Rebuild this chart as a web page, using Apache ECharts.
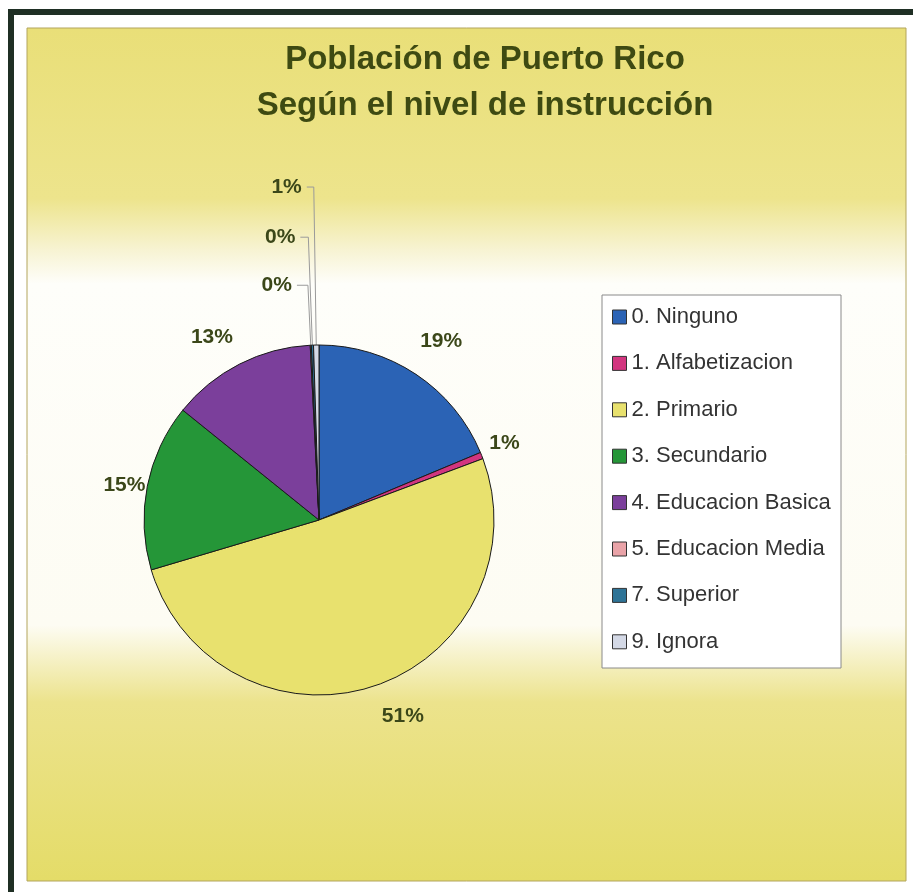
<!DOCTYPE html>
<html>
<head>
<meta charset="utf-8">
<title>Población de Puerto Rico</title>
<script src="https://cdn.jsdelivr.net/npm/echarts@6/dist/echarts.min.js"></script>
<style>
  html, body { margin: 0; padding: 0; background: #ffffff; }
  #main { width: 913px; height: 892px; }
</style>
</head>
<body>
<div id="main"></div>
<script>
// datos del grafico
const categories = [
  '0. Ninguno',
  '1. Alfabetizacion',
  '2. Primario',
  '3. Secundario',
  '4. Educacion Basica',
  '5. Educacion Media',
  '7. Superior',
  '9. Ignora'
]
const shares = [18.7, 0.6, 51.1, 15.4, 13.4, 0.1, 0.2, 0.5] // porcentaje de la poblacion
const titleLines = ['Población de Puerto Rico', 'Según el nivel de instrucción']

// estilos
const sliceColors = ['#2b63b5', '#d2357f', '#e8e16e', '#259638', '#7b3f9b', '#e9a3a8', '#2e7396', '#d4d9e6']
// [length, length2, mostrar linea] de la etiqueta de cada porcion
const labelLines = [
  [40, -23, false],
  [34, -29, false],
  [32, -8, false],
  [6, -9, false],
  [30, -12, false],
  [60, 11, true],
  [108, 8, true],
  [158, 7, true]
]
const fontName = '"Liberation Sans", Arial, sans-serif'

const chartInstance = echarts.init(document.getElementById('main'), null, { renderer: 'canvas' })

const pieData = categories.map((name, i) => {
  return {
    name: name,
    value: shares[i],
    itemStyle: { color: sliceColors[i] },
    labelLine: {
      show: labelLines[i][2],
      length: labelLines[i][0],
      length2: labelLines[i][1]
    }
  }
})

const option = {
  animation: false,
  backgroundColor: '#ffffff',
  title: {
    text: titleLines.join('\n'),
    left: 480,
    top: 32,
    textAlign: 'center',
    textStyle: {
      fontFamily: fontName,
      fontSize: 33,
      fontWeight: 'bold',
      lineHeight: 46,
      color: '#3e4a12'
    }
  },
  // fondo del grafico (marco y degradado amarillo)
  graphic: [
    {
      type: 'rect',
      z: 0,
      shape: { x: 8, y: 9, width: 6, height: 883 },
      style: { fill: '#1f2f24' }
    },
    {
      type: 'rect',
      z: 0,
      shape: { x: 8, y: 9, width: 905, height: 6 },
      style: { fill: '#1f2f24' }
    },
    {
      type: 'rect',
      z: 0,
      shape: { x: 27, y: 28, width: 879, height: 853 },
      style: {
        stroke: '#b3a55c',
        lineWidth: 1,
        fill: new echarts.graphic.LinearGradient(0, 0, 0, 1, [
          { offset: 0, color: '#e9df78' },
          { offset: 0.2, color: '#ede48c' },
          { offset: 0.26, color: '#f7f3d2' },
          { offset: 0.3, color: '#fefefa' },
          { offset: 0.7, color: '#fdfcf3' },
          { offset: 0.79, color: '#ece38c' },
          { offset: 1, color: '#e4dc68' }
        ])
      }
    },
    {
      type: 'rect',
      z: 1,
      shape: { x: 602, y: 295, width: 239, height: 373 },
      style: { fill: '#ffffff', stroke: '#8a8a8a', lineWidth: 1 }
    }
  ],
  legend: {
    orient: 'vertical',
    left: 612,
    top: 306,
    padding: 0,
    icon: 'rect',
    itemWidth: 14,
    itemHeight: 14,
    itemGap: 24.4,
    itemStyle: { borderColor: '#333333', borderWidth: 1 },
    textStyle: {
      fontFamily: fontName,
      fontSize: 22,
      lineHeight: 22,
      color: '#333333'
    },
    data: categories
  },
  series: [
    {
      type: 'pie',
      center: [319, 520],
      radius: 175,
      startAngle: 90,
      clockwise: true,
      avoidLabelOverlap: false,
      emphasis: { disabled: true },
      itemStyle: { borderColor: '#1a1a1a', borderWidth: 1 },
      label: {
        show: true,
        position: 'outside',
        distanceToLabelLine: 5,
        formatter: (p) => Math.round(p.percent) + '%',
        fontFamily: fontName,
        fontSize: 21,
        fontWeight: 'bold',
        color: '#3b4719'
      },
      labelLine: {
        lineStyle: { color: '#9a9a9a', width: 1 }
      },
      data: pieData
    }
  ]
}

chartInstance.setOption(option)
</script>
</body>
</html>
